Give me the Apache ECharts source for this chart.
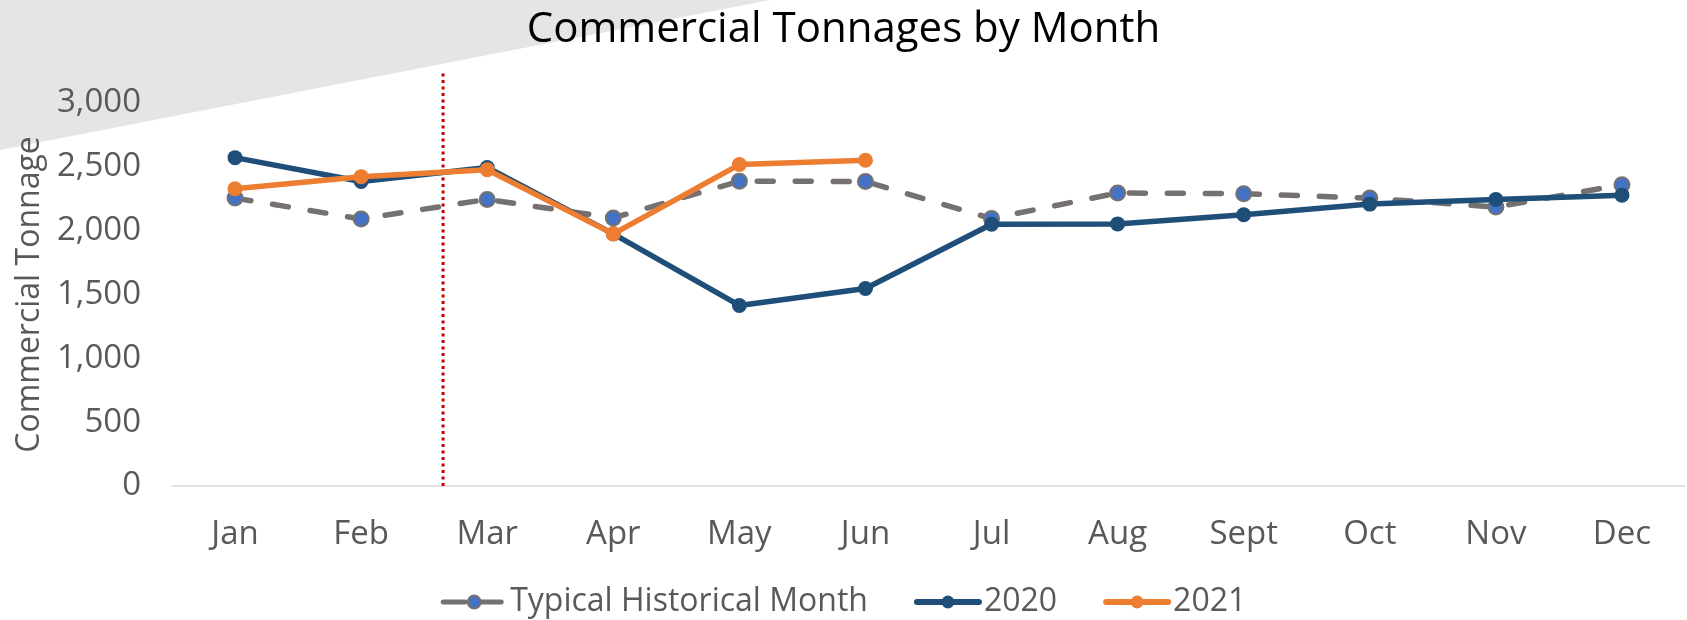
<!DOCTYPE html>
<html>
<head>
<meta charset="utf-8">
<script src="https://cdn.jsdelivr.net/npm/echarts@6/dist/echarts.min.js"></script>
<style>html,body{margin:0;padding:0;background:#fff}#c{width:1687px;height:620px}</style>
</head>
<body>
<div id="c"></div>
<script>
const months = ['Jan','Feb','Mar','Apr','May','Jun','Jul','Aug','Sept','Oct','Nov','Dec'];
const historical = [2255, 2092, 2245, 2100, 2388, 2385, 2095, 2295, 2290, 2255, 2185, 2360];
const y2020 = [2572, 2385, 2495, 1975, 1414, 1547, 2050, 2053, 2125, 2208, 2245, 2278];
const y2021 = [2328, 2423, 2477, 1975, 2518, 2552];
const yTicks = [0, 500, 1000, 1500, 2000, 2500, 3000];
const dividerX = [1.65, 1.65];
const dividerY = [0, 3235];

const FONT = 'Open Sans';
const chart = echarts.init(document.getElementById('c'), null, {renderer: 'canvas'});
chart.setOption({
  animation: false,
  backgroundColor: '#ffffff',
  graphic: [{
    type: 'polygon', z: -10, silent: true,
    shape: {points: [[0,0],[770,0],[0,150]]},
    style: {fill: '#E4E5E4'}
  }],
  title: {
    text: 'Commercial Tonnages by Month',
    left: 'center', top: 0,
    textStyle: {fontFamily: FONT, fontSize: 42, fontWeight: 'normal', color: '#000000', lineHeight: 50}
  },
  legend: {
    top: 580, left: 'center',
    itemWidth: 62, itemHeight: 16, itemGap: 46,
    data: [
      {name: 'Typical Historical Month', lineStyle: {type: [22, 14], width: 5, cap: 'round'}},
      {name: '2020', lineStyle: {width: 6, cap: 'round'}},
      {name: '2021', lineStyle: {width: 6, cap: 'round'}}
    ],
    textStyle: {fontFamily: FONT, fontSize: 32, color: '#595959', lineHeight: 34}
  },
  grid: {left: 172, right: 2, top: 103, bottom: 134, containLabel: false},
  xAxis: [{
    type: 'category', data: months, boundaryGap: true,
    axisLine: {lineStyle: {color: '#D9D9D9', width: 1.5}},
    axisTick: {show: false},
    axisLabel: {fontFamily: FONT, fontSize: 33, color: '#595959', margin: 31, lineHeight: 36}
  }, {
    type: 'value', min: -0.5, max: 11.5, show: false
  }],
  yAxis: [{
    type: 'value', min: yTicks[0], max: yTicks[yTicks.length-1], interval: 500,
    name: 'Commercial Tonnage', nameLocation: 'middle', nameGap: 125,
    nameTextStyle: {fontFamily: FONT, fontSize: 32, color: '#595959'},
    axisLine: {show: false}, axisTick: {show: false},
    splitLine: {show: false},
    axisLabel: {fontFamily: FONT, fontSize: 33, color: '#595959', margin: 31,
      formatter: v => v.toLocaleString('en-US')}
  }],
  series: [{
    name: 'Typical Historical Month', type: 'line', data: historical,
    symbol: 'circle', symbolSize: 15, z: 2,
    lineStyle: {color: '#767171', width: 5.5, type: [16, 22], cap: 'round'},
    itemStyle: {color: '#4472C4', borderColor: '#767171', borderWidth: 2}
  }, {
    name: '2020', type: 'line', data: y2020,
    symbol: 'circle', symbolSize: 15, z: 3,
    lineStyle: {color: '#1F4E79', width: 5.5},
    itemStyle: {color: '#1F4E79'}
  }, {
    name: '2021', type: 'line', data: y2021,
    symbol: 'circle', symbolSize: 15, z: 4,
    lineStyle: {color: '#ED7D31', width: 5.5},
    itemStyle: {color: '#ED7D31'}
  }, {
    name: 'divider', type: 'line', xAxisIndex: 1, yAxisIndex: 0,
    data: dividerX.map((x, i) => [x, dividerY[i]]),
    symbol: 'none', clip: false, silent: true, z: 1,
    lineStyle: {color: '#C00000', width: 3, type: [3, 3.5]}
  }]
});
</script>
</body>
</html>
